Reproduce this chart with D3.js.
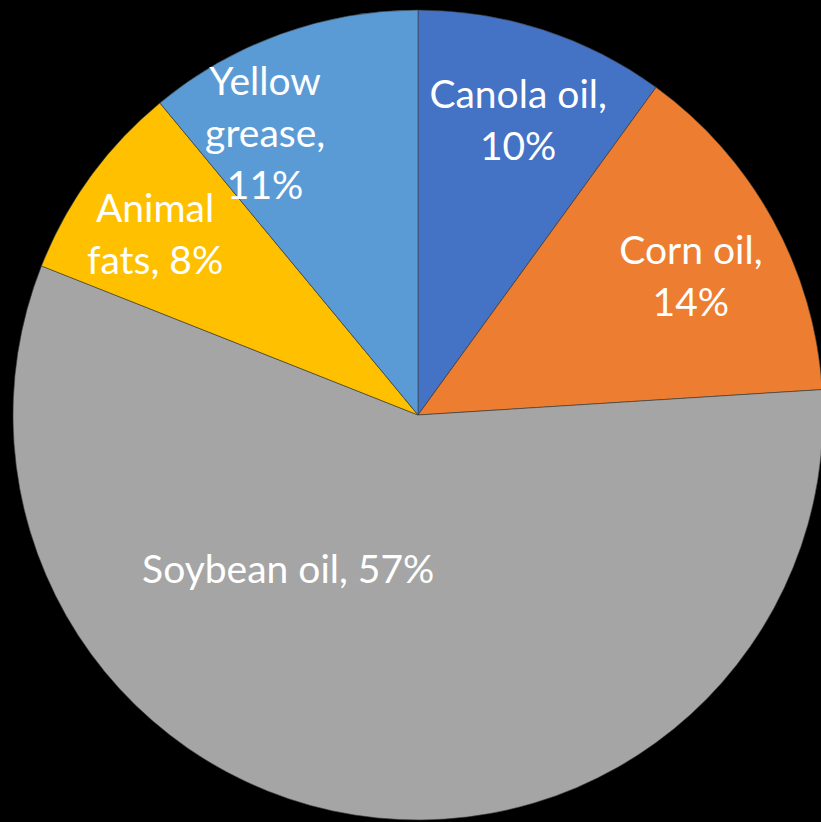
<!DOCTYPE html>
<html>
<head>
<meta charset="utf-8">
<script src="https://cdn.jsdelivr.net/npm/d3@7"></script>
<style>
  html, body { margin: 0; padding: 0; background: #000; }
  svg { display: block; }
</style>
</head>
<body>
<script>
// Share of feedstock by source (percent)
const categories = ["Canola oil", "Corn oil", "Soybean oil", "Animal fats", "Yellow grease"];
const shares = [10, 14, 57, 8, 11];
const colors = ["#4472C4", "#ED7D31", "#A5A5A5", "#FFC000", "#5B9BD5"];
// How each label is broken into lines
const labelLines = [
  ["Canola oil,", "10%"],
  ["Corn oil,", "14%"],
  ["Soybean oil, 57%"],
  ["Animal", "fats, 8%"],
  ["Yellow", "grease,", "11%"]
];

const W = 821, H = 822;
const cx = 418, cy = 415, R = 405;

// Label anchors in polar form: angle (degrees clockwise from 12 o'clock), radius fraction
const labelPolar = [
  [19.6, 0.737],
  [65.4, 0.741],
  [217.7, 0.524],
  [302.4, 0.769],
  [330.3, 0.762]
];

const svg = d3.select("body").append("svg")
  .attr("width", W).attr("height", H);

svg.append("rect").attr("width", W).attr("height", H).attr("fill", "#000");

const data = categories.map((c, i) => ({ name: c, value: shares[i], color: colors[i], lines: labelLines[i], polar: labelPolar[i] }));

const pie = d3.pie().value(d => d.value).sort(null);
const arc = d3.arc().innerRadius(0).outerRadius(R);

const g = svg.append("g").attr("transform", `translate(${cx},${cy})`);

g.selectAll("path.slice")
  .data(pie(data))
  .join("path")
  .attr("class", "slice")
  .attr("d", arc)
  .attr("fill", d => d.data.color)
  .attr("stroke", "#3a3a3a")
  .attr("stroke-width", 0.6);

const lineH = 52;
const labels = g.selectAll("text.lbl")
  .data(data)
  .join("text")
  .attr("class", "lbl")
  .attr("text-anchor", "middle")
  .attr("fill", "#fff")
  .style("font-family", "Lato, 'Open Sans', sans-serif")
  .style("font-size", "39px")
  .attr("transform", d => {
    const a = d.polar[0] * Math.PI / 180, r = d.polar[1] * R;
    return `translate(${r * Math.sin(a)},${-r * Math.cos(a)})`;
  });

labels.selectAll("tspan")
  .data(d => d.lines.map((t, i) => ({ t, i, n: d.lines.length })))
  .join("tspan")
  .attr("x", 0)
  .attr("y", d => (d.i - (d.n - 1) / 2) * lineH)
  .text(d => d.t);
</script>
</body>
</html>
